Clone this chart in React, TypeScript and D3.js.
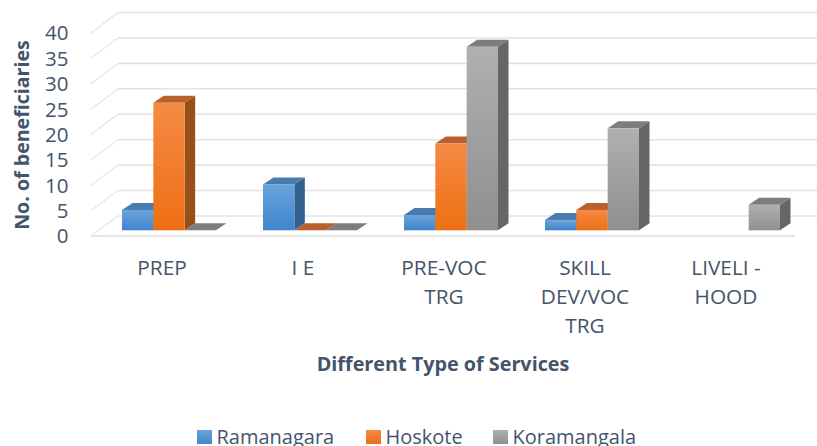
import React from "react";
import * as d3 from "d3";

const categories = ["PREP", "I E", "PRE-VOC TRG", "SKILL DEV/VOC TRG", "LIVELI - HOOD"];
const categoryLines = [["PREP"], ["I E"], ["PRE-VOC", "TRG"], ["SKILL", "DEV/VOC", "TRG"], ["LIVELI -", "HOOD"]];
const seriesNames = ["Ramanagara", "Hoskote", "Koramangala"];
const ramanagara: (number | null)[] = [4, 9, 3, 2, null];
const hoskote: (number | null)[] = [25, 0, 17, 4, null];
const koramangala: (number | null)[] = [0, 0, 36, 20, 5];
const seriesValues = [ramanagara, hoskote, koramangala];
const yTicks = [0, 5, 10, 15, 20, 25, 30, 35, 40];

const palette = [
  { top: "#6aa3dc", bottom: "#3f86cc", cap: "#4a7bae", side: "#33618f" },
  { top: "#f58a45", bottom: "#ee6f14", cap: "#b9602c", side: "#97501a" },
  { top: "#b0b0b0", bottom: "#8f8f8f", cap: "#7d7d7d", side: "#666666" },
];
const FONT = "'Open Sans', sans-serif";
const TEXT = "#44546a";
const GRID = "#e4e4e4";

const y = d3.scaleLinear().domain([0, 40]).range([230.3, 26.3]);
const yFront = d3.scaleLinear().domain([0, 40]).range([236, 33]);
const yBack = d3.scaleLinear().domain([0, 40]).range([216, 12.5]);
const x0 = d3.scaleBand<string>().domain(categories).range([97, 802]).paddingInner(0).paddingOuter(0);
const x1 = d3.scaleBand<string>().domain(seriesNames).range([25, 119]);
const depthX = 10.5;
const depthY = 7;
const pts = (a: number[][]) => a.map((p) => p.join(",")).join(" ");

export default function App() {
  return (
    <svg width={817} height={446} style={{ position: "absolute", left: 0, top: 0, background: "#fff" }}>
      <defs>
        {palette.map((c, i) => (
          <linearGradient key={i} id={`g${i}`} x1="0" y1="0" x2="0" y2="1">
            <stop offset="0" stopColor={c.top} />
            <stop offset="1" stopColor={c.bottom} />
          </linearGradient>
        ))}
      </defs>

      {yTicks.map((t) => (
        <g key={t}>
          <line x1={118} x2={817} y1={yBack(t)} y2={yBack(t)} stroke={GRID} strokeWidth={1.6} />
          <line x1={91} x2={118} y1={yFront(t)} y2={yBack(t)} stroke={GRID} strokeWidth={1.2} />
          <text x={68.5} y={yFront(t)} dy="0.36em" textAnchor="end" fontFamily={FONT} fontSize={20.5} fill={TEXT}>
            {t}
          </text>
        </g>
      ))}
      <line x1={91} x2={795} y1={236} y2={236} stroke={GRID} strokeWidth={2} />

      {categories.map((cat, ci) =>
        seriesNames.map((s, si) => {
          const v = seriesValues[si][ci];
          if (v === null) return null;
          const c = palette[si];
          const l = x0(cat)! + x1(s)!;
          const r = l + x1.bandwidth();
          const t = y(v);
          const b = y(0);
          return (
            <g key={`${cat}-${s}`}>
              <polygon points={pts([[r, t], [r + depthX, t - depthY], [r + depthX, b - depthY], [r, b]])} fill={c.side} />
              <polygon points={pts([[l, t], [r, t], [r + depthX, t - depthY], [l + depthX, t - depthY]])} fill={c.cap} />
              {v > 0 && <rect x={l} y={t} width={r - l} height={b - t} fill={`url(#g${si})`} />}
            </g>
          );
        })
      )}

      {categoryLines.map((lines, i) => {
        const cx = x0(categories[i])! + 65;
        return (
          <text key={i} x={cx} y={275} textAnchor="middle" fontFamily={FONT} fontSize={20.8} fill={TEXT}>
            {lines.map((ln, j) => (
              <tspan key={j} x={cx} dy={j === 0 ? 0 : 28.8}>
                {ln}
              </tspan>
            ))}
          </text>
        );
      })}

      <text x={443} y={370.5} textAnchor="middle" fontFamily={FONT} fontSize={19.8} fontWeight={700} fill={TEXT}>
        Different Type of Services
      </text>
      <text transform="translate(29,135) rotate(-90)" textAnchor="middle" fontFamily={FONT} fontSize={19.6} fontWeight={700} fill={TEXT}>
        No. of beneficiaries
      </text>

      {seriesNames.map((s, i) => {
        const lx = [197, 366, 493][i];
        return (
          <g key={s}>
            <rect x={lx} y={430} width={15} height={14} fill={`url(#g${i})`} />
            <text x={lx + 19.5} y={443.5} fontFamily={FONT} fontSize={20} fill={TEXT}>
              {s}
            </text>
          </g>
        );
      })}
    </svg>
  );
}
